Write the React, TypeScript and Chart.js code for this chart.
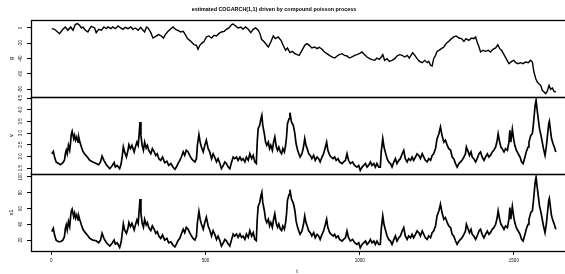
import React, { useEffect, useRef } from 'react';
import { Chart, registerables } from 'chart.js';

Chart.register(...registerables);

const TITLE = 'estimated COGARCH(1,1) driven by compound poisson process';
const X_LABEL = 't';
const Y_LABELS = ['g', 'v', 'x1'];
const X_TICKS = [0, 500, 1000, 1500];
const G_TICKS = [0, -20, -40, -60, -80];
const V_TICKS = [1.5, 2, 2.5, 3, 3.5, 4, 4.5];
const X1_TICKS = [20, 40, 60, 80, 100];

// panel g
const gT = [2, 11, 27, 38, 46, 54, 63, 71, 78, 85, 92, 98, 103, 111, 119, 125, 130, 141, 146, 154, 163, 171, 179, 184, 193, 200, 208, 217, 225, 233, 240, 249, 258, 265, 273, 282, 290, 298, 303, 309, 314, 323, 330, 341, 349, 357, 364, 370, 379, 388, 395, 403, 411, 420, 428, 433, 442, 449, 455, 463, 471, 476, 482, 487, 496, 503, 511, 520, 528, 536, 543, 552, 561, 568, 576, 585, 590, 598, 606, 615, 622, 630, 639, 647, 655, 663, 671, 677, 682, 691, 698, 704, 712, 720, 727, 736, 745, 752, 760, 766, 774, 782, 790,
  797, 804, 813, 822, 829, 837, 845, 854, 862, 869, 878, 886, 894, 902, 910, 919, 927, 934, 943, 951, 959, 967, 975, 984, 991, 999, 1008, 1016, 1024, 1032, 1040, 1049, 1056, 1064, 1070, 1075, 1081, 1089, 1096, 1105, 1114, 1121, 1129, 1138, 1146, 1154, 1161, 1168, 1172, 1179, 1186, 1194, 1203, 1211, 1219, 1224, 1230, 1235, 1240, 1246, 1251, 1257, 1265, 1273, 1280, 1289, 1298, 1305, 1313, 1322, 1330, 1338, 1345, 1354, 1363, 1370, 1376, 1381, 1387, 1392, 1400, 1408, 1417, 1424, 1432, 1441, 1448, 1454, 1460, 1468, 1475, 1484, 1493, 1500, 1506, 1514, 1522, 1529, 1538, 1547, 1554, 1560, 1565, 1571, 1576, 1581, 1587, 1592, 1598, 1603, 1608, 1614, 1619, 1625, 1630, 1636];
const gVals = [-0.9, -1.7, -7.4, -1.7, 1.3, -3.0, 1.3, -3.0, 4.4, 5.7, 3.5, 0, 1.3, -3.0, -5.2, -0.9, 2.2, 0, -6.1, -1.7, -3.0, 1.3, -0.9, 1.3, -0.9, 1.3, -0.9, 2.6, 0, -1.7, 0.9, -0.9, 1.3, -1.7, 0, -3.0, 0.9, -3.0, -5.2, 1.3, 0, -6.1, -13.1, -10.4, -8.7, -10.4, -13.1, -8.7, -4.4, -0.9, 1.3, -1.7, -3.0, -5.2, -4.4, -7.4, -13.9, -16.1, -18.3, -21.8, -22.6, -27.8, -22.6, -20.4, -17.4, -11.7, -10.4, -13.1, -9.6, -10.4, -7.4, -5.2, -4.4, -1.7, 0, 4.4, 5.2, 2.6, 0, 1.3, -1.7, 1.3, -1.7, -6.1, -1.7, 0, -3.0, -7.4, -14.8, -18.3, -21.8, -24.8, -18.3, -10.4, -13.9, -11.7, -16.1, -22.6, -29.1, -26.1, -32.2, -30.5, -33.5,
  -34.8, -35.7, -29.1, -22.6, -20.4, -22.6, -26.1, -24.8, -27.0, -25.2, -27.8, -31.3, -33.5, -35.7, -37.8, -39.2, -36.5, -34.8, -33.5, -35.7, -36.5, -39.2, -37.8, -35.7, -34.8, -33.5, -31.3, -34.8, -37.8, -40.0, -41.3, -42.2, -39.2, -40.9, -37.8, -34.8, -42.2, -40.0, -43.5, -42.2, -40.0, -36.5, -34.8, -35.7, -37.8, -35.7, -39.2, -34.8, -32.2, -35.7, -40.0, -43.5, -45.2, -42.2, -45.2, -43.5, -48.7, -49.6, -40.0, -35.7, -30.5, -29.1, -27.0, -24.8, -20.4, -17.4, -13.9, -11.7, -10.4, -13.1, -13.9, -17.4, -13.9, -16.1, -13.1, -13.9, -11.7, -18.3, -24.8, -31.3, -29.1, -30.5, -29.1, -31.3, -27.8, -26.1, -21.8, -27.0, -29.1, -34.8, -40.0, -46.5, -43.5, -42.2, -45.2, -46.5, -45.2, -46.5, -44.4, -45.2, -42.2, -44.4, -57.4, -66.1, -70.5, -72.6, -74.8, -81.3, -83.5, -85.7, -82.7, -74.8, -80.0, -78.3, -82.7, -83.5];

// panels v and x1 share time stamps
const vT = [2, 7, 11, 16, 24, 30, 38, 43, 46, 49, 52, 56, 60, 63, 65, 68, 73, 76, 79, 83, 87, 90, 93, 98, 103, 108, 117, 125, 135, 146, 154, 160, 165, 171, 179, 190, 197, 204, 208, 214, 222, 227, 231, 234, 238, 244, 249, 252, 257, 262, 269, 273, 278, 282, 285, 288, 291, 295, 299, 303, 308, 312, 316, 323, 328, 334, 339, 344, 349, 355, 361, 368, 375, 381, 388, 395, 401, 406, 411, 417, 422, 428, 433, 438, 444, 449, 455, 460, 466, 471, 474, 479, 483, 487, 493, 498, 503, 509, 514, 520, 525, 530, 536, 541, 547, 552, 558, 563, 568, 574, 579, 585, 590, 595, 601, 606, 612, 617, 622, 628, 633, 639, 644, 650, 655, 660, 665, 668, 671, 676, 680, 683, 686, 691, 695, 699, 704, 708, 712, 717, 721, 725, 730, 734, 738, 743, 747, 751, 756, 760, 763, 766, 771, 774, 779, 785, 790,
  794, 799, 804, 807, 813, 818, 822, 826, 830, 835, 840, 845, 851, 856, 862, 867, 872, 878, 883, 889, 893, 897, 903, 908, 914, 919, 924, 930, 935, 943, 948, 954, 959, 964, 970, 977, 984, 991, 997, 1002, 1008, 1013, 1019, 1024, 1029, 1035, 1040, 1046, 1051, 1056, 1062, 1067, 1070, 1075, 1079, 1083, 1089, 1094, 1100, 1105, 1111, 1116, 1121, 1127, 1132, 1138, 1143, 1148, 1154, 1159, 1165, 1170, 1175, 1181, 1186, 1192, 1197, 1203, 1208, 1213, 1219, 1224, 1230, 1235, 1240, 1246, 1251, 1257, 1262, 1267, 1273, 1278, 1284, 1289, 1295, 1300, 1305, 1311, 1316, 1322, 1327, 1332, 1338, 1343, 1346, 1352, 1356, 1361, 1365, 1370, 1376, 1381, 1387, 1392, 1397, 1403, 1408, 1414, 1419, 1424, 1430, 1435, 1441, 1446, 1449, 1454, 1458, 1462, 1468, 1473, 1479, 1484, 1487, 1490, 1495, 1499, 1503, 1508, 1514, 1520, 1525, 1530, 1536, 1540, 1546, 1549, 1552, 1555, 1560, 1563, 1566, 1569, 1572, 1575, 1579, 1583, 1588, 1592, 1596, 1601, 1605, 1609, 1613, 1615, 1618, 1622, 1627, 1631, 1636];
const vVals = [2.11, 2.21, 1.97, 1.76, 1.69, 1.64, 1.73, 1.83, 2.11, 2.26, 2.11, 2.47, 2.26, 2.61, 2.93, 3.07, 2.76, 2.90, 2.69, 2.83, 2.61, 2.79, 2.61, 2.40, 2.21, 2.11, 1.97, 1.83, 1.76, 1.69, 1.64, 1.76, 2.01, 1.83, 1.64, 1.47, 1.59, 1.73, 1.54, 1.61, 1.47, 1.69, 2.07, 2.40, 2.19, 1.97, 2.26, 2.50, 2.33, 2.47, 2.19, 2.40, 2.61, 2.47, 2.90, 3.47, 2.90, 2.47, 2.26, 2.61, 2.36, 2.47, 2.26, 2.11, 2.33, 2.19, 2.04, 2.11, 1.90, 1.83, 1.97, 1.73, 1.79, 1.61, 1.69, 1.54, 1.44, 1.54, 1.69, 1.83, 1.97, 2.19, 2.04, 2.26, 2.19, 2.04, 1.90, 1.83, 1.76, 1.90, 2.47, 2.93, 2.61, 2.40, 2.19, 2.47, 2.69, 2.33, 2.19, 1.90, 2.11, 1.97, 1.76, 1.90, 1.69, 1.47, 1.61, 1.76, 1.69, 1.54, 1.47, 1.76, 1.97, 1.90, 1.97, 1.83, 1.97, 1.83, 1.90, 1.76, 1.97, 1.83, 2.11, 1.90, 2.04, 1.76, 1.69, 2.61, 3.19, 3.33, 3.61, 3.76, 3.33, 2.97, 2.61, 2.47, 2.61, 2.33, 2.47, 2.26, 2.61, 2.83, 2.40, 2.26, 2.40, 2.19, 2.11, 2.33, 2.19, 2.47, 2.83, 3.40, 3.61, 3.87, 3.47, 3.33, 2.97,
  2.54, 2.26, 2.07, 1.97, 2.11, 2.40, 2.76, 2.47, 2.33, 2.11, 2.04, 1.90, 2.04, 1.83, 1.97, 1.90, 1.76, 1.97, 2.11, 2.40, 2.61, 2.26, 2.04, 1.97, 1.90, 1.97, 1.83, 1.90, 1.76, 1.69, 1.76, 1.83, 2.11, 1.83, 1.69, 1.76, 1.61, 1.54, 1.61, 1.40, 1.54, 1.61, 1.69, 1.54, 1.61, 1.76, 1.61, 1.69, 1.54, 1.69, 1.54, 1.54, 2.19, 2.76, 2.40, 2.19, 1.90, 1.76, 1.69, 1.54, 1.76, 1.90, 1.69, 1.83, 1.90, 2.11, 2.26, 1.90, 1.76, 1.90, 1.83, 1.97, 1.83, 1.97, 2.11, 2.04, 1.90, 2.11, 1.97, 1.83, 1.76, 1.90, 1.83, 2.04, 2.11, 2.33, 2.76, 2.97, 3.26, 2.90, 2.61, 2.69, 2.47, 2.33, 2.26, 1.97, 1.90, 1.69, 1.54, 1.69, 1.76, 1.83, 1.97, 2.11, 2.40, 2.19, 2.04, 2.19, 1.97, 1.90, 1.76, 1.90, 2.11, 2.19, 1.97, 1.83, 1.97, 2.11, 1.97, 2.04, 2.19, 2.26, 2.40, 2.69, 2.97, 2.61, 2.40, 2.33, 2.19, 2.33, 2.26, 2.61, 3.11, 2.61, 3.16, 2.76, 2.47, 2.26, 2.11, 1.97, 1.76, 1.69, 1.97, 2.19, 2.40, 2.61, 2.76, 2.90, 2.97, 3.33, 3.76, 4.19, 4.40, 4.04, 3.61, 3.19, 2.90, 2.61, 2.33, 2.04, 2.40, 2.90, 3.40, 3.50, 3.19, 2.76, 2.54, 2.40, 2.19];
const x1Vals = [30.7, 34.9, 26.4, 20.0, 17.9, 17.9, 20.0, 24.3, 34.9, 39.2, 32.8, 43.4, 37.1, 49.8, 56.2, 59.2, 49.8, 54.1, 47.7, 52.0, 45.6, 49.8, 45.6, 39.2, 33.7, 30.7, 26.4, 22.2, 20.0, 19.2, 16.6, 20.0, 28.6, 22.2, 16.6, 12.4, 15.8, 20.0, 14.9, 16.6, 10.7, 17.9, 30.7, 40.5, 32.8, 28.6, 34.9, 42.2, 37.1, 41.3, 32.8, 39.2, 45.6, 41.3, 56.2, 72.0, 54.1, 41.3, 36.2, 46.4, 39.2, 42.2, 36.2, 32.0, 37.9, 33.7, 28.6, 30.7, 25.1, 22.2, 26.4, 20.0, 22.2, 16.6, 17.9, 13.7, 11.5, 14.9, 19.2, 22.2, 27.7, 33.7, 29.4, 36.2, 33.7, 29.4, 25.1, 22.2, 20.0, 25.1, 42.2, 56.2, 46.4, 40.5, 33.7, 42.2, 49.0, 37.9, 32.8, 25.1, 32.0, 27.7, 20.9, 25.1, 19.2, 12.4, 16.6, 20.9, 19.2, 14.9, 12.4, 20.9, 27.7, 25.1, 27.7, 23.4, 27.7, 23.4, 25.1, 20.9, 27.7, 23.4, 32.0, 25.1, 29.4, 20.9, 19.2, 46.4, 62.6, 67.7, 76.2, 80.5, 67.7, 57.5, 46.4, 42.2, 46.4, 37.9, 42.2, 36.2, 46.4, 53.2, 40.5, 36.2, 40.5, 33.7, 32.0, 37.9, 33.7, 42.2, 53.2, 70.3, 77.5, 83.9, 72.0, 66.9, 57.5,
  44.3, 35.8, 30.3, 27.3, 31.5, 40.0, 50.7, 42.2, 37.9, 31.5, 29.4, 25.2, 29.4, 23.0, 27.3, 25.2, 20.9, 27.3, 31.5, 40.0, 46.4, 35.8, 29.4, 27.3, 25.2, 27.3, 23.0, 25.2, 20.9, 18.8, 20.9, 23.0, 31.5, 23.0, 18.8, 20.9, 16.6, 14.5, 16.6, 10.3, 14.5, 16.6, 18.8, 14.5, 16.6, 20.9, 16.6, 18.8, 14.5, 18.8, 14.5, 14.5, 33.7, 50.7, 40.0, 33.7, 25.2, 20.9, 18.8, 14.5, 20.9, 25.2, 18.8, 23.0, 25.2, 31.5, 35.8, 25.2, 20.9, 25.2, 23.0, 27.3, 23.0, 27.3, 31.5, 29.4, 25.2, 31.5, 27.3, 23.0, 20.9, 25.2, 23.0, 29.4, 31.5, 37.9, 50.7, 57.1, 65.6, 54.9, 46.4, 48.6, 42.2, 37.9, 35.8, 27.3, 25.2, 18.8, 14.5, 18.8, 20.9, 23.0, 27.3, 31.5, 40.0, 33.7, 29.4, 33.7, 27.3, 25.2, 20.9, 25.2, 31.5, 33.7, 27.3, 23.0, 27.3, 31.5, 27.3, 29.4, 33.7, 35.8, 40.0, 48.6, 57.1, 46.4, 40.0, 37.9, 33.7, 37.9, 35.8, 46.4, 61.3, 46.4, 62.6, 50.7, 42.2, 35.8, 31.5, 27.3, 20.9, 18.8, 27.3, 33.7, 40.0, 46.4, 50.7, 54.9, 57.1, 67.7, 80.5, 93.2, 99.6, 89.0, 76.2, 63.4, 54.9, 46.4, 37.9, 29.4, 40.0, 54.9, 69.8, 72.8, 63.4, 50.7, 44.3, 40.0, 33.7];

const FONT = '"Liberation Sans", Arial, Helvetica, sans-serif';

function pts(ts: number[], ys: number[]) {
  return ts.map((t, i) => ({ x: t, y: ys[i] }));
}

function yAxis(ticks: number[], min: number, max: number, weight: number, label: string, fmt: (v: number) => string, pad: number) {
  return {
    type: 'linear' as const,
    position: 'left' as const,
    stack: 'panels',
    stackWeight: 1,
    weight,
    min,
    max,
    afterBuildTicks: (s: any) => {
      s.ticks = ticks.map((value) => ({ value }));
    },
    afterFit: (s: any) => {
      s.width = 31;
    },
    ticks: {
      autoSkip: false,
      minRotation: 90,
      maxRotation: 90,
      crossAlign: 'center' as const,
      padding: pad,
      color: '#111',
      font: { family: FONT, size: 4.5 },
      callback: (v: any) => fmt(Number(v)),
    },
    grid: { drawOnChartArea: false, drawTicks: true, tickLength: 4, color: '#000', lineWidth: 1 },
    border: { display: false },
    title: { display: true, text: label, color: '#000', font: { family: FONT, size: 5.7, lineHeight: 1.2 }, padding: { top: 8, bottom: 0 } },
  };
}

const framePlugin = {
  id: 'framePlugin',
  afterDraw(chart: any) {
    const { ctx, chartArea: a, scales } = chart;
    ctx.save();
    ctx.strokeStyle = '#000';
    ctx.lineWidth = 1.3;
    ['yg', 'yv', 'yx'].forEach((id) => {
      const s = scales[id];
      ctx.strokeRect(Math.round(a.left) + 0.5, s.top + 0.5, a.right - a.left, s.bottom - s.top);
    });
    ctx.lineWidth = 1;
    const xs = scales.x;
    ctx.beginPath();
    ctx.moveTo(xs.getPixelForValue(X_TICKS[0]), a.bottom + 0.5);
    ctx.lineTo(xs.getPixelForValue(X_TICKS[X_TICKS.length - 1]), a.bottom + 0.5);
    ctx.stroke();
    ctx.fillStyle = '#000';
    ctx.textAlign = 'center';
    ctx.textBaseline = 'middle';
    ctx.font = `bold 5.4px ${FONT}`;
    ctx.fillText(TITLE, 274, 9.5);
    ctx.font = `5.7px ${FONT}`;
    ctx.fillText(X_LABEL, 297, 271);
    ctx.restore();
  },
};

export default function App() {
  const ref = useRef<HTMLCanvasElement | null>(null);
  useEffect(() => {
    if (!ref.current) return;
    const line = { borderColor: '#000', pointRadius: 0, tension: 0, fill: false, borderJoinStyle: 'miter' as const };
    const chart = new Chart(ref.current, {
      type: 'line',
      data: {
        datasets: [
          { ...line, borderWidth: 1.4, label: Y_LABELS[0], data: pts(gT, gVals), yAxisID: 'yg' },
          { ...line, borderWidth: 1.7, label: Y_LABELS[1], data: pts(vT, vVals), yAxisID: 'yv' },
          { ...line, borderWidth: 1.7, label: Y_LABELS[2], data: pts(vT, x1Vals), yAxisID: 'yx' },
        ],
      },
      options: {
        responsive: false,
        maintainAspectRatio: false,
        animation: false,
        events: [],
        layout: { padding: { top: 20, right: 4, bottom: 0, left: 0 } },
        plugins: { legend: { display: false }, tooltip: { enabled: false }, title: { display: false } },
        scales: {
          x: {
            type: 'linear',
            position: 'bottom',
            min: -65.4,
            max: 1701.4,
            afterBuildTicks: (s: any) => {
              s.ticks = X_TICKS.map((value) => ({ value }));
            },
            afterFit: (s: any) => {
              s.height = 23;
            },
            ticks: { autoSkip: false, maxRotation: 0, minRotation: 0, padding: 3, color: '#111', font: { family: FONT, size: 4.5 }, callback: (v: any) => String(v) },
            grid: { drawOnChartArea: false, drawTicks: true, tickLength: 4, color: '#000', lineWidth: 1 },
            border: { display: false },
          },
          yg: yAxis(G_TICKS, -90.0, 10.4, 3, Y_LABELS[0], (v) => String(v), 2.7),
          yv: yAxis(V_TICKS, 1.243, 4.543, 2, Y_LABELS[1], (v) => v.toFixed(1), 2.9),
          yx: yAxis(X1_TICKS, 6.2, 103.7, 1, Y_LABELS[2], (v) => String(v), 2.3),
        },
      } as any,
      plugins: [framePlugin],
    });
    return () => chart.destroy();
  }, []);
  return (
    <div style={{ position: 'fixed', left: 0, top: 0, width: 580, height: 274, background: '#fff' }}>
      <canvas ref={ref} width={580} height={274} style={{ display: 'block', width: 580, height: 274 }} />
    </div>
  );
}
